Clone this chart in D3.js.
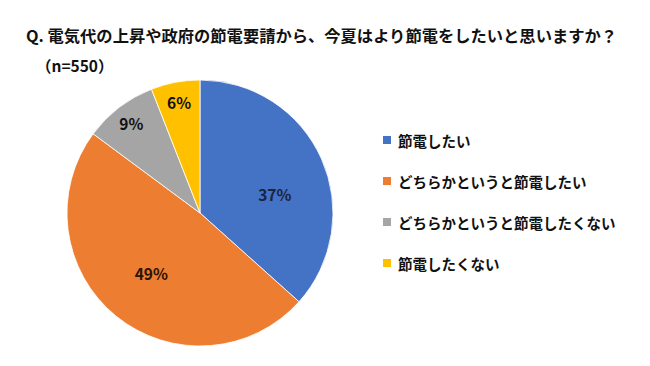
<!DOCTYPE html>
<html><head><meta charset="utf-8">
<script src="https://cdn.jsdelivr.net/npm/d3@7"></script>
<style>
html,body{margin:0;padding:0;background:#fff;}
svg{display:block;font-family:"Noto Sans CJK JP","Noto Sans",sans-serif;font-weight:700;}
</style></head>
<body>
<svg id="chart" width="650" height="366"></svg>
<script>
const title = "Q. 電気代の上昇や政府の節電要請から、今夏はより節電をしたいと思いますか？";
const subtitle = "（n=550）";
const categories = ["節電したい","どちらかというと節電したい","どちらかというと節電したくない","節電したくない"];
const values = [37, 49, 9, 6];
const colors = ["#4472C4","#ED7D31","#A5A5A5","#FFC000"];
const labelColors = ["#1a2440","#2a1405","#111","#111"];

const svg = d3.select("#chart");
svg.append("text").attr("x", 26).attr("y", 35).attr("dominant-baseline","central")
  .attr("font-size", 16.3).attr("fill","#111").text(title);
svg.append("text").attr("x", 36).attr("y", 65).attr("dominant-baseline","central")
  .attr("font-size", 15.5).attr("fill","#111").text(subtitle);

const cx = 200, cy = 213, R = 133;
const pie = d3.pie().sort(null).value(d => d)(values);
const arc = d3.arc().innerRadius(0).outerRadius(R);
const g = svg.append("g").attr("transform", `translate(${cx},${cy})`);
g.selectAll("path").data(pie).enter().append("path")
  .attr("d", arc).attr("fill", (d,i) => colors[i])
  .attr("stroke","#fff").attr("stroke-width",0.8);

const labelArcBig = d3.arc().innerRadius(R*0.58).outerRadius(R*0.58);
const labelArcSmall = d3.arc().innerRadius(R*0.85).outerRadius(R*0.85);
g.selectAll("text.lbl").data(pie).enter().append("text")
  .attr("class","lbl")
  .attr("transform", d => {
    const a = d.data > 20 ? labelArcBig : labelArcSmall;
    let [x,y] = a.centroid(d);
    if (d.index === 0) { const ang = (d.startAngle + d.endAngle)/2 + 0.17; x = Math.sin(ang)*R*0.58; y = -Math.cos(ang)*R*0.58; }
    return `translate(${x},${y})`;
  })
  .attr("text-anchor","middle").attr("dominant-baseline","central")
  .attr("font-size", 15.5).attr("fill", (d,i) => labelColors[i])
  .text(d => d.data + "%");

const lg = svg.append("g");
categories.forEach((c,i) => {
  const y = 140 + i*41;
  lg.append("rect").attr("x", 383).attr("y", y-4).attr("width", 8).attr("height", 8).attr("fill", colors[i]);
  lg.append("text").attr("x", 398).attr("y", y).attr("dominant-baseline","central")
    .attr("font-size", 14.5).attr("fill","#111").text(c);
});
</script>
</body></html>
